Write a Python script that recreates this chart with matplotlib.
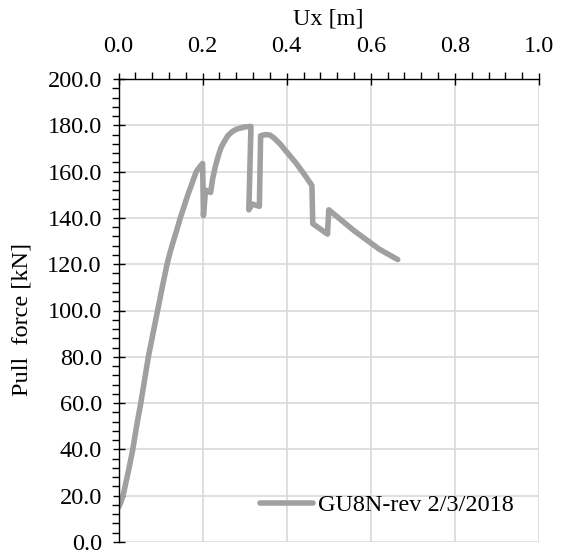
import matplotlib
matplotlib.use("Agg")
import matplotlib.pyplot as plt
from matplotlib.ticker import MultipleLocator, FormatStrFormatter

ux = [0.000, 0.004, 0.008, 0.012, 0.018, 0.024, 0.029, 0.034, 0.043, 0.053,
      0.062, 0.071, 0.082, 0.093, 0.104, 0.1155, 0.1225, 0.1305, 0.139, 0.147,
      0.156, 0.165, 0.175, 0.185, 0.193, 0.200, 0.202,
      0.207, 0.219, 0.224, 0.230, 0.236, 0.243, 0.250, 0.260, 0.270, 0.280,
      0.300, 0.315, 0.310, 0.318,
      0.335, 0.338, 0.350, 0.360, 0.370, 0.384, 0.400, 0.423, 0.443, 0.460,
      0.462, 0.497, 0.500, 0.530, 0.560, 0.590, 0.620, 0.664]
force = [15.0, 16.5, 18.5, 21.0, 26.0, 31.0, 35.5, 40.0, 50.0, 60.0,
         70.0, 80.0, 90.0, 100.0, 110.0, 120.0, 125.0, 130.0, 135.0, 140.0,
         145.0, 150.0, 155.0, 160.0, 162.0, 163.5, 141.0,
         152.0, 151.0, 157.0, 162.0, 166.0, 170.0, 172.5, 175.5, 177.2, 178.3,
         179.3, 179.5, 143.5, 146.0,
         145.0, 175.5, 176.0, 175.8, 174.5, 172.0, 168.5, 163.5, 158.5, 154.0,
         137.5, 133.0, 143.5, 139.0, 134.5, 130.5, 126.5, 122.0]
series_label = "GU8N-rev 2/3/2018"
x_label = "Ux [m]"
y_label = "Pull  force [kN]"

plt.rcParams['font.family'] = ['Liberation Serif', 'DejaVu Serif']
fs = 17.5

fig = plt.figure(figsize=(5.66, 5.52), dpi=100)
ax = fig.add_axes([118.5/566, 10/552, (539-118.5)/566, 463/552])

ax.plot(ux, force, color='#a0a0a0', lw=4, label=series_label,
        solid_joinstyle='round', solid_capstyle='round')

ax.set_xlim(0, 1.0)
ax.set_ylim(0, 200)
ax.xaxis.set_major_locator(MultipleLocator(0.2))
ax.xaxis.set_minor_locator(MultipleLocator(0.04))
ax.yaxis.set_major_locator(MultipleLocator(20))
ax.yaxis.set_minor_locator(MultipleLocator(4))
ax.xaxis.set_major_formatter(FormatStrFormatter('%.1f'))
ax.yaxis.set_major_formatter(FormatStrFormatter('%.1f'))

ax.xaxis.tick_top()
ax.xaxis.set_label_position('top')
ax.grid(True, which='major', color='#d9d9d9', lw=1.2)
ax.set_axisbelow(True)

for s in ['right', 'bottom']:
    ax.spines[s].set_visible(False)
for s in ['top', 'left']:
    ax.spines[s].set_color('black')
    ax.spines[s].set_linewidth(1.0)

ax.tick_params(axis='x', which='major', direction='inout', length=8, width=1,
               labelsize=fs, pad=12, top=True, bottom=False)
ax.tick_params(axis='x', which='minor', direction='out', length=5, width=1,
               top=True, bottom=False)
ax.tick_params(axis='y', which='major', direction='inout', length=8, width=1,
               labelsize=fs, pad=8, right=False)
ax.tick_params(axis='y', which='minor', direction='out', length=5, width=1,
               right=False)
for t in ax.get_yticklabels() + ax.get_xticklabels():
    t.set_clip_on(False)

ax.set_xlabel(x_label, fontsize=fs, labelpad=8)
ax.set_ylabel(y_label, fontsize=fs)
ax.yaxis.set_label_coords(-(118.5-32)/420.5, (542-320)/463)

ax.legend(loc='center left', bbox_to_anchor=((260-118.5)/420.5, (542-505)/463),
          frameon=False, fontsize=fs, handlelength=2.2, handletextpad=0.2,
          borderpad=0, borderaxespad=0)

fig.savefig('out.png', dpi=100)
